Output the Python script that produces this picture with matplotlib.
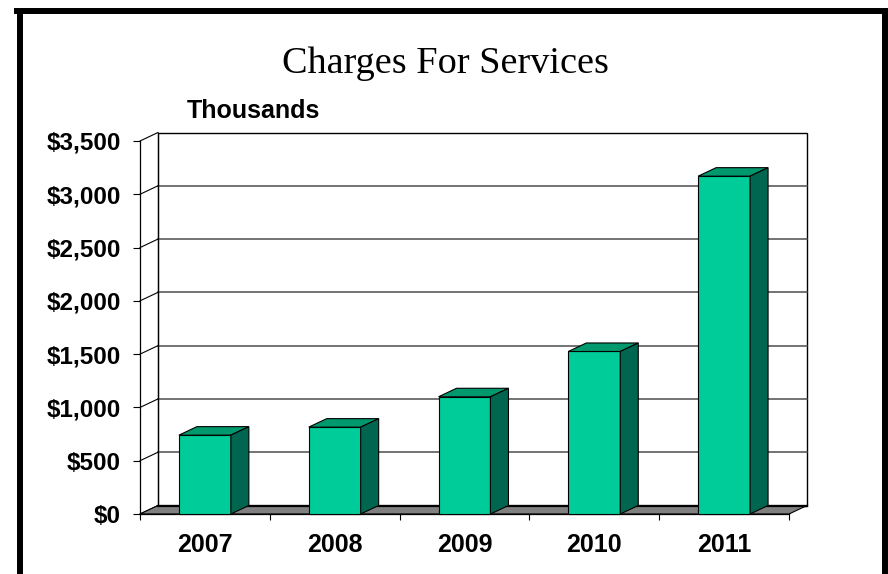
import matplotlib.pyplot as plt
from matplotlib.patches import Polygon
from matplotlib.lines import Line2D

# Charges for services, in thousands of dollars
years = ['2007', '2008', '2009', '2010', '2011']
charges = [740, 815, 1100, 1525, 3170]
y_ticks = [0, 500, 1000, 1500, 2000, 2500, 3000, 3500]
y_labels = ['$0', '$500', '$1,000', '$1,500', '$2,000', '$2,500', '$3,000', '$3,500']

W, H = 888, 574
fig = plt.figure(figsize=(W / 100, H / 100), dpi=100)
fig.patch.set_facecolor('white')

# front plane of the 3-D box, in pixels
left, right, bottom, top = 140, 789, 514, 141
ax = fig.add_axes([left / W, (H - bottom) / H, (right - left) / W, (bottom - top) / H])
ax.set_xlim(0, len(years))
ax.set_ylim(0, 3500)
ax.patch.set_visible(False)

# depth of the box, converted from pixels into data units
px_per_cat = (right - left) / len(years)
px_per_val = (bottom - top) / 3500
DX = 18 / px_per_cat
DY = 8.5 / px_per_val

ymax = 3500
ncat = len(years)

# back wall
ax.add_patch(Polygon([(DX, DY), (ncat + DX, DY), (ncat + DX, ymax + DY), (DX, ymax + DY)],
                     closed=True, facecolor='white', edgecolor='black', lw=1.0,
                     zorder=0, clip_on=False))
for v in y_ticks[1:-1]:
    ax.add_line(Line2D([DX, ncat + DX], [v + DY, v + DY], color='#4d4d4d', lw=1.1,
                       zorder=1, clip_on=False))
# side wall lines from the front axis to the back wall
for v in y_ticks:
    ax.add_line(Line2D([0, DX], [v, v + DY], color='black', lw=0.8, zorder=1, clip_on=False))
ax.add_line(Line2D([DX, DX], [DY, ymax + DY], color='black', lw=0.8, zorder=1, clip_on=False))

# floor
ax.add_patch(Polygon([(0, 0), (ncat, 0), (ncat + DX, DY), (DX, DY)], closed=True,
                     facecolor='#808080', edgecolor='black', lw=0.8, zorder=2, clip_on=False))
ax.add_line(Line2D([DX, ncat + DX], [DY, DY], color='black', lw=1.6, zorder=2, clip_on=False))

# 3-D columns
bw = 0.40
for i, v in enumerate(charges):
    x0 = i + 0.5 - bw / 2
    x1 = i + 0.5 + bw / 2
    ax.add_patch(Polygon([(x0, 0), (x1, 0), (x1, v), (x0, v)], closed=True,
                         facecolor='#00CC99', edgecolor='black', lw=0.8, zorder=3, clip_on=False))
    ax.add_patch(Polygon([(x0, v), (x1, v), (x1 + DX, v + DY), (x0 + DX, v + DY)], closed=True,
                         facecolor='#00996E', edgecolor='black', lw=0.8, zorder=3, clip_on=False))
    ax.add_patch(Polygon([(x1, 0), (x1 + DX, DY), (x1 + DX, v + DY), (x1, v)], closed=True,
                         facecolor='#006650', edgecolor='black', lw=0.8, zorder=3, clip_on=False))

for s in ['top', 'right']:
    ax.spines[s].set_visible(False)
ax.spines['left'].set_linewidth(0.9)
ax.spines['bottom'].set_linewidth(0.9)
ax.spines['left'].set_zorder(4)

ax.set_yticks(y_ticks)
ax.set_yticklabels(y_labels)
ax.tick_params(axis='y', length=5, width=0.8, pad=9, direction='out')
ax.set_xticks([i + 0.5 for i in range(ncat)])
ax.set_xticklabels(years)
ax.set_xticks(range(ncat + 1), minor=True)
ax.tick_params(axis='x', which='major', length=0, pad=14)
ax.tick_params(axis='x', which='minor', length=4.5, width=0.8, direction='out')
for lbl in ax.get_yticklabels():
    lbl.set_fontfamily('Liberation Sans')
    lbl.set_fontweight('bold')
    lbl.set_fontsize(17.5)
for lbl in ax.get_xticklabels():
    lbl.set_fontfamily('Liberation Sans')
    lbl.set_fontweight('bold')
    lbl.set_fontsize(18)

fig.text(187 / W, 1 - 117.5 / H, 'Thousands', family='Liberation Sans', weight='bold',
         fontsize=18, ha='left', va='baseline')
fig.text(445 / W, 1 - 73 / H, 'Charges For Services', family='Liberation Serif',
         fontsize=27.5, ha='center', va='baseline')

# heavy frame around the slide
bc = 'black'
ytop = 1 - 10.5 / H
fig.add_artist(Line2D([19.5 / W, 19.5 / W], [0, ytop], color=bc, lw=4.3,
                      transform=fig.transFigure))
fig.add_artist(Line2D([885 / W, 885 / W], [0, ytop], color=bc, lw=4.3,
                      transform=fig.transFigure))
fig.add_artist(Line2D([17 / W, 888 / W], [ytop, ytop], color=bc, lw=4.3,
                      transform=fig.transFigure))

fig.savefig('out.png', dpi=100, facecolor='white')
